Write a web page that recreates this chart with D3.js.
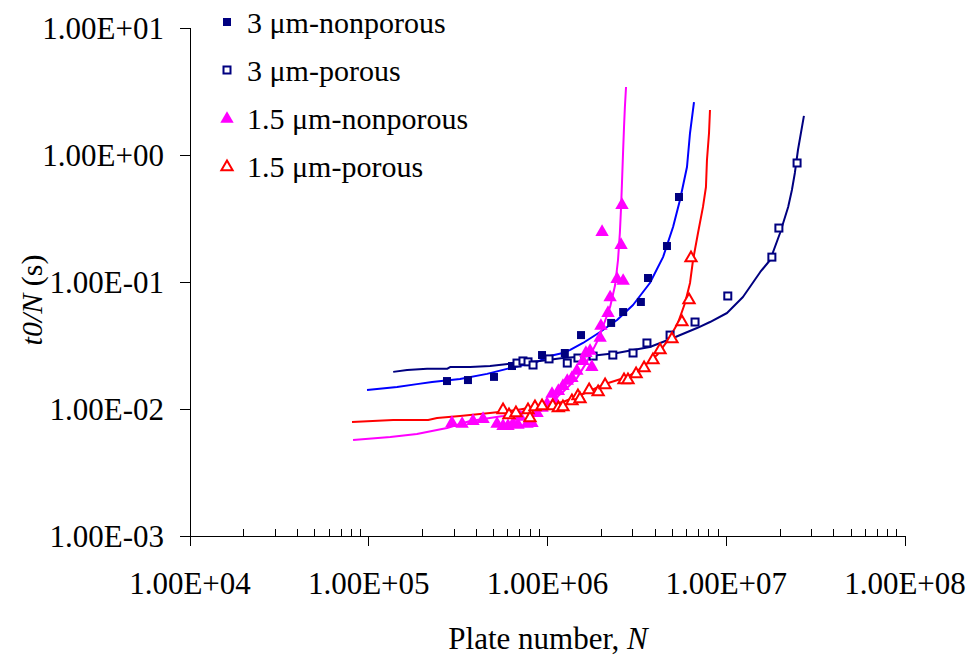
<!DOCTYPE html>
<html><head><meta charset="utf-8">
<script src="https://cdn.jsdelivr.net/npm/d3@7"></script>
<style>
html,body{margin:0;padding:0;background:#fff;}
svg{display:block;font-family:"Liberation Serif","Times New Roman",serif;}
</style></head>
<body><svg id="chart" width="972" height="665"></svg>
<script>
// ---- data ----
const seriesNames = ["3 μm-nonporous","3 μm-porous","1.5 μm-nonporous","1.5 μm-porous"];

const nonporous3N = [2.74e5,3.59e5,5.02e5,6.33e5,9.32e5,1.25e6,1.54e6,2.27e6,2.65e6,3.33e6,3.65e6,4.66e6,5.44e6];
const nonporous3T = [0.0166,0.0169,0.0179,0.0218,0.0266,0.0276,0.0382,0.0476,0.058,0.0696,0.1075,0.192,0.467];
const fit3nonN = [9.78e4,1.44e5,1.86e5,2.26e5,3.24e5,4.59e5,5.93e5,8.74e5,1.03e6,1.22e6,1.34e6,1.58e6,1.97e6,2.45e6,3.01e6,3.74e6,4.43e6,5.04e6,5.51e6,6.03e6,6.27e6,6.60e6];
const fit3nonT = [0.0141,0.0149,0.0157,0.0163,0.0172,0.0189,0.0207,0.0235,0.0261,0.0276,0.0292,0.0331,0.0404,0.0502,0.0659,0.0982,0.157,0.271,0.442,0.805,1.49,2.61];

const porous3N = [6.75e5,7.29e5,7.78e5,8.30e5,1.02e6,1.29e6,1.48e6,1.80e6,2.32e6,3.01e6,3.60e6,4.85e6,6.69e6,1.02e7,1.80e7,1.97e7,2.49e7];
const porous3T = [0.0230,0.0239,0.0235,0.0222,0.0248,0.0230,0.0252,0.0261,0.0266,0.0276,0.0331,0.0382,0.0484,0.0776,0.157,0.266,0.865];
const fit3porN = [1.37e5,1.64e5,2.12e5,2.74e5,2.85e5,3.69e5,4.77e5,6.75e5,9.08e5,1.22e6,1.73e6,2.45e6,3.01e6,3.74e6,5.04e6,6.86e6,8.11e6,1.01e7,1.24e7,1.55e7,1.76e7,2.00e7,2.22e7,2.33e7,2.42e7,2.52e7,2.72e7];
const fit3porT = [0.0196,0.0203,0.0207,0.0207,0.0214,0.0214,0.0218,0.0230,0.0239,0.0252,0.0261,0.0276,0.0292,0.0308,0.0362,0.0434,0.0484,0.0570,0.0762,0.120,0.149,0.243,0.390,0.530,0.722,1.10,2.03];

const nonporous15N = [2.92e5,3.33e5,3.83e5,4.36e5,5.22e5,5.64e5,6.01e5,6.41e5,6.84e5,7.02e5,7.68e5,8.19e5,8.74e5,9.32e5,9.94e5,1.06e6,1.10e6,1.15e6,1.22e6,1.29e6,1.37e6,1.46e6,1.58e6,1.64e6,1.73e6,1.77e6,1.97e6,1.99e6,2.18e6,2.24e6,2.45e6,2.65e6,2.58e6,2.02e6,2.61e6];
const nonporous15T = [0.0079,0.00776,0.00819,0.00849,0.00776,0.00748,0.00748,0.00776,0.00762,0.00881,0.00776,0.0079,0.00947,0.01037,0.01115,0.01337,0.01177,0.01411,0.01545,0.01692,0.01786,0.0203,0.0243,0.0281,0.0292,0.0218,0.0369,0.0459,0.058,0.0769,0.1075,0.1037,0.199,0.252,0.411];
const fit15nonN = [8.17e4,1.32e5,1.86e5,2.74e5,3.69e5,5.64e5,7.98e5,1.03e6,1.22e6,1.46e6,1.66e6,1.89e6,2.04e6,2.24e6,2.39e6,2.48e6,2.54e6,2.58e6,2.61e6,2.65e6,2.68e6,2.71e6,2.75e6];
const fit15nonT = [0.0057,0.00602,0.00636,0.00709,0.00805,0.00881,0.00982,0.01115,0.0136,0.0175,0.0235,0.0337,0.0442,0.0636,0.0947,0.149,0.243,0.390,0.602,1.10,1.66,2.39,3.43];

const porous15N = [5.64e5,6.09e5,6.66e5,7.78e5,7.98e5,8.51e5,9.32e5,1.07e6,1.15e6,1.22e6,1.37e6,1.48e6,1.52e6,1.71e6,1.92e6,2.10e6,2.68e6,2.82e6,3.13e6,3.47e6,3.89e6,4.26e6,4.97e6,5.65e6,6.19e6,6.35e6];
const porous15T = [0.0100,0.00913,0.00947,0.0100,0.00865,0.01056,0.01075,0.01075,0.01037,0.01056,0.01177,0.01289,0.01221,0.01437,0.01386,0.01573,0.0172,0.0172,0.0192,0.0214,0.0248,0.0297,0.0362,0.0493,0.0735,0.157];
const fit15porN = [8.06e4,1.37e5,2.15e5,2.41e5,3.24e5,4.77e5,6.75e5,9.08e5,1.22e6,1.58e6,2.10e6,2.79e6,3.42e6,4.10e6,4.72e6,5.37e6,5.88e6,6.27e6,6.52e6,6.95e6,7.41e6,7.70e6,7.80e6,8.01e6,8.11e6];
const fit15porT = [0.0079,0.00819,0.00819,0.00849,0.00881,0.0093,0.00982,0.01056,0.01135,0.01313,0.01573,0.01786,0.0214,0.0266,0.0349,0.0476,0.0683,0.0982,0.149,0.243,0.390,0.560,0.913,1.49,2.26];

const xTicks = [1e4,1e5,1e6,1e7,1e8];
const xTickLabels = ["1.00E+04","1.00E+05","1.00E+06","1.00E+07","1.00E+08"];
const yTicks = [1e-3,1e-2,1e-1,1e0,1e1];
const yTickLabels = ["1.00E-03","1.00E-02","1.00E-01","1.00E+00","1.00E+01"];

// ---- chart ----
const svg = d3.select("#chart");
const x = d3.scaleLog().domain([1e4,1e8]).range([190,905]);
const y = d3.scaleLog().domain([1e-3,1e1]).range([536,28]);
const zip = (a,b)=>a.map((v,i)=>[v,b[i]]);

const navy="#000080", blue="#0000FF", magenta="#FF00FF", red="#FF0000";

// axes
const ax = svg.append("g").attr("stroke","#000").attr("stroke-width",1).attr("shape-rendering","crispEdges");
ax.append("line").attr("x1",x(1e4)).attr("x2",x(1e8)).attr("y1",y(1e-3)).attr("y2",y(1e-3));
ax.append("line").attr("x1",x(1e4)).attr("x2",x(1e4)).attr("y1",y(1e1)).attr("y2",y(1e-3));
xTicks.forEach(t=>{
  ax.append("line").attr("x1",x(t)).attr("x2",x(t)).attr("y1",y(1e-3)).attr("y2",y(1e-3)+10);
});
for(let d=1e4; d<1e8; d*=10){
  for(let k=2;k<=9;k++){
    const v=d*k;
    ax.append("line").attr("x1",x(v)).attr("x2",x(v)).attr("y1",y(1e-3)-7).attr("y2",y(1e-3));
  }
}
yTicks.forEach(t=>{
  ax.append("line").attr("x1",x(1e4)-10).attr("x2",x(1e4)).attr("y1",y(t)).attr("y2",y(t));
});

const tl = svg.append("g").attr("font-size",31).attr("fill","#000");
xTicks.forEach((t,i)=>{
  tl.append("text").attr("x",x(t)).attr("y",594).attr("text-anchor","middle").text(xTickLabels[i]);
});
yTicks.forEach((t,i)=>{
  tl.append("text").attr("x",164).attr("y",y(t)).attr("dy","0.35em").attr("text-anchor","end").text(yTickLabels[i]);
});

// axis titles
const xt = svg.append("text").attr("x",548).attr("y",649).attr("text-anchor","middle").attr("font-size",31);
xt.append("tspan").text("Plate number, ");
xt.append("tspan").attr("font-style","italic").text("N");

const yt = svg.append("text").attr("transform","translate(42,300) rotate(-90)").attr("text-anchor","middle").attr("font-size",30);
yt.append("tspan").attr("font-style","italic").text("t0/N");
yt.append("tspan").text(" (s)");

// lines
const line = d3.line().x(d=>x(d[0])).y(d=>y(d[1]));
const lines = [
  [zip(fit3nonN,fit3nonT), blue],
  [zip(fit3porN,fit3porT), navy],
  [zip(fit15nonN,fit15nonT), magenta],
  [zip(fit15porN,fit15porT), red]
];
lines.forEach(([data,c])=>{
  svg.append("path").datum(data).attr("d",line).attr("fill","none").attr("stroke",c).attr("stroke-width",2).attr("stroke-linejoin","round");
});

// markers
const sq = 8;
function filledSquare(g,cx,cy){ g.append("rect").attr("x",cx-sq/2).attr("y",cy-sq/2).attr("width",sq).attr("height",sq).attr("fill",navy); }
function openSquare(g,cx,cy){ g.append("rect").attr("x",cx-3.5).attr("y",cy-3.5).attr("width",7).attr("height",7).attr("fill","#fff").attr("stroke",navy).attr("stroke-width",2); }
const tri = d3.symbol().type(d3.symbolTriangle);
function filledTri(g,cx,cy){ g.append("path").attr("d",tri.size(78)()).attr("transform",`translate(${cx},${cy+1})`).attr("fill",magenta); }
function openTri(g,cx,cy){ g.append("path").attr("d",tri.size(55)()).attr("transform",`translate(${cx},${cy+1})`).attr("fill","#fff").attr("stroke",red).attr("stroke-width",2); }

const mk = svg.append("g");
zip(nonporous3N,nonporous3T).forEach(d=>filledSquare(mk,x(d[0]),y(d[1])));
zip(porous3N,porous3T).forEach(d=>openSquare(mk,x(d[0]),y(d[1])));
zip(nonporous15N,nonporous15T).forEach(d=>filledTri(mk,x(d[0]),y(d[1])));
zip(porous15N,porous15T).forEach(d=>openTri(mk,x(d[0]),y(d[1])));

// legend
const lg = svg.append("g");
const markerFns = [filledSquare, openSquare, filledTri, openTri];
seriesNames.forEach((s,i)=>{
  const cy = 22 + i*48;
  markerFns[i](lg,227,cy);
  lg.append("text").attr("x",247).attr("y",cy).attr("dy","0.35em").attr("font-size",30).text(s);
});
</script>
</body></html>
